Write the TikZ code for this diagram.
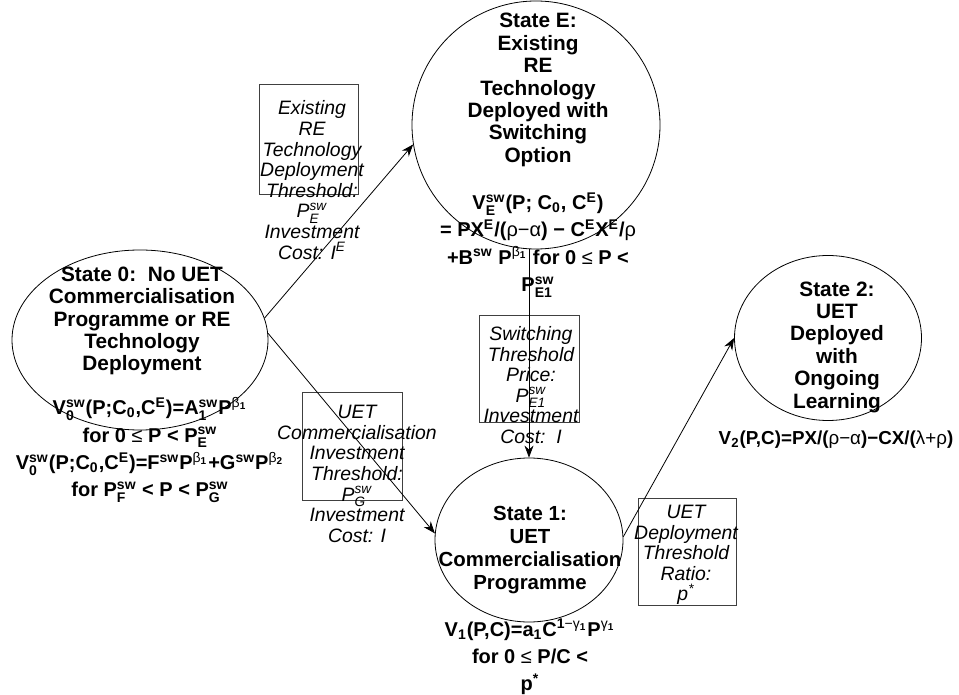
\documentclass[tikz,border=0pt]{standalone}
\usepackage{fontspec}
\usepackage{amsmath}
\setmainfont{Liberation Sans}
\usetikzlibrary{shapes.geometric,arrows.meta}
\newcommand{\hi}[1]{\ensuremath{^{\text{#1}}}}
\newcommand{\lo}[1]{\ensuremath{_{\text{#1}}}}
\newcommand{\hilo}[2]{\ensuremath{^{\text{#1}}_{\text{#2}}}}
\newcommand{\gk}[1]{{\mdseries #1}}
\tikzset{
	state/.style={draw, ellipse, inner sep=0pt},
	title/.style={font=\bfseries\fontsize{10.4}{11.2}\selectfont, align=center},
	formula/.style={font=\bfseries\fontsize{10}{13.6}\selectfont, align=center},
	thresh/.style={draw=black!75, inner sep=0pt},
	boxtext/.style={font=\itshape\fontsize{9.7}{10.3}\selectfont, align=center},
	trans/.style={-{Stealth[length=6pt,width=4.5pt]}}
}
\begin{document}
\begin{tikzpicture}[x=0.5pt, y=-0.5pt]
	\useasboundingbox (0,0) rectangle (959,695);
	\node [state, minimum width=128pt, minimum height=90pt] (s0) at (140,340) {};
	\node [title] (s0t) at (142,321) {State 0:\ \ No UET\\Commercialisation\\Programme or RE\\Technology\\Deployment};
	\node [formula] (s0f) at (150,450) {V\hilo{sw}{0}(P;C\lo{0},C\hi{E})=A\hilo{sw}{1}P\hi{\gk{β}\lo{1}}\\for 0 \gk{≤} P < P\hilo{sw}{E}\\V\hilo{sw}{0}(P;C\lo{0},C\hi{E})=F\hi{sw}P\hi{\gk{β}\lo{1}}+G\hi{sw}P\hi{\gk{β}\lo{2}}\\for P\hilo{sw}{F} < P < P\hilo{sw}{G}};
	\node [state, circle, minimum size=124pt] (sE) at (536,125) {};
	\node [title] (sEt) at (538,90) {State E:\\Existing\\RE\\Technology\\Deployed with\\Switching\\Option};
	\node [formula] (sEf) at (538,245) {V\hilo{sw}{E}(P; C\lo{0}, C\hi{E})\\= PX\hi{E}/(\gk{ρ−α}) − C\hi{E}X\hi{E}/\gk{ρ}\\+B\hi{sw} P\hi{\gk{β}\lo{1}} for 0 \gk{≤} P <\\P\hilo{sw}{E1}};
	\node [state, minimum width=94pt, minimum height=82pt] (s1) at (529,540) {};
	\node [title, font=\bfseries\fontsize{10.2}{11.6}\selectfont] (s1t) at (530,550) {State 1:\\UET\\Commercialisation\\Programme};
	\node [formula] (s1f) at (530,657) {V\lo{1}(P,C)=a\lo{1}C\hi{1\gk{−γ}\lo{1}}P\hi{\gk{γ}\lo{1}}\\for 0 \gk{≤} P/C <\\p\hi{*}};
	\node [state, minimum width=93.5pt, minimum height=82.5pt] (s2) at (828,338) {};
	\node [title] (s2t) at (837,347) {State 2:\\UET\\Deployed\\with\\Ongoing\\Learning};
	\node [formula, font=\bfseries\fontsize{9.4}{12}\selectfont] (s2f) at (836,440) {V\lo{2}(P,C)=PX/(\gk{ρ−α})−CX/(\gk{λ+ρ})};
	\node [thresh, minimum width=49.5pt, minimum height=55pt] (bE) at (308.5,139) {};
	\node [boxtext] (bEt) at (312,180) {Existing\\RE\\Technology\\Deployment\\Threshold:\\P\hilo{sw}{E}\\Investment\\Cost: I\hi{E}};
	\node [thresh, minimum width=50pt, minimum height=54pt] (bG) at (352,446) {};
	\node [boxtext] (bGt) at (357,474) {UET\\Commercialisation\\Investment\\Threshold:\\P\hilo{sw}{G}\\Investment\\Cost: I};
	\node [thresh, minimum width=50pt, minimum height=53.5pt] (bS) at (529,368.5) {};
	\node [boxtext] (bSt) at (531,385) {Switching\\Threshold\\Price:\\P\hilo{sw}{E1}\\Investment\\Cost:\ \ I};
	\node [thresh, minimum width=49pt, minimum height=53.5pt] (bD) at (687,551.5) {};
	\node [boxtext] (bDt) at (686,555) {UET\\Deployment\\Threshold\\Ratio:\\p\hi{*}};
	\draw [trans] (s0.10) -- (sE.189);
	\draw [trans] (s0.3) -- (s1.176);
	\draw [trans] (sE.south -| s1.north) -- (s1.north);
	\draw [trans] (s1.2) -- (s2.180);
\end{tikzpicture}
\end{document}
